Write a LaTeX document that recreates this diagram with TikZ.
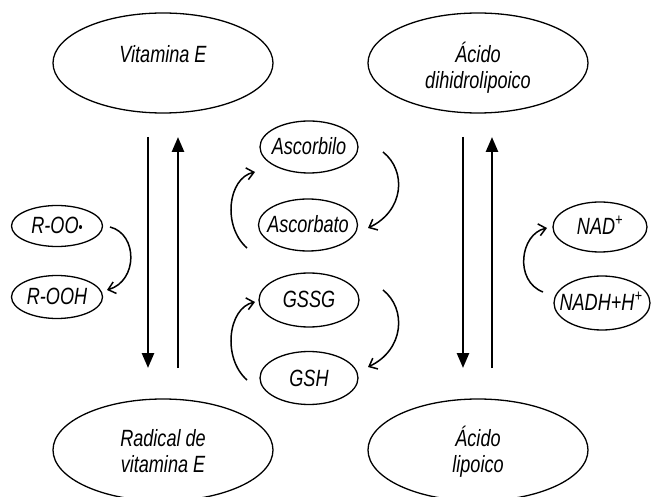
\documentclass[tikz,border=0pt]{standalone}
\usepackage{fontspec}
\setmainfont{Liberation Sans}[FakeStretch=0.77]
\usetikzlibrary{shapes.geometric,arrows.meta}
\tikzset{
  bigell/.style={ellipse,draw,line width=1.3pt,minimum width=220pt,minimum height=100pt,inner sep=0pt},
  smallell/.style={ellipse,draw,line width=1.3pt,inner sep=0pt},
  txt/.style={font=\fontsize{23.5}{26}\selectfont\itshape,inner sep=0pt,anchor=base},
  vert/.style={line width=2.6pt,-{Triangle[length=15pt,width=12pt]}},
  cur/.style={line width=1.5pt,-{Straight Barb[length=7pt,width=12pt,line width=1.5pt]}}
}
\newcommand{\raddot}{\raisebox{1pt}{\fontsize{15}{15}\selectfont\upshape•}}
\begin{document}
\begin{tikzpicture}[x=1pt,y=1pt]
\useasboundingbox (0,0) rectangle (651,496);
% big ellipses
\node[bigell] (vitE) at (163,433) {};
\node[txt] (vitEt) at (163,433) {Vitamina E};
\node[bigell] (acdh) at (478,433) {};
\node[txt] (acdh1) at (478,433) {Ácido};
\node[txt] (acdh2) at (478,407) {dihidrolipoico};
\node[bigell,minimum height=102pt] (radE) at (163,46) {};
\node[txt] (radE1) at (163,50) {Radical de};
\node[txt] (radE2) at (163,24) {vitamina E};
\node[bigell,minimum height=102pt] (acl) at (478,46) {};
\node[txt] (acl1) at (478,50) {Ácido};
\node[txt] (acl2) at (478,24) {lipoico};
% small ellipses
\node[smallell,minimum width=98pt,minimum height=52pt] (asbl) at (309,349) {};
\node[txt] (asblt) at (309,341) {Ascorbilo};
\node[smallell,minimum width=99pt,minimum height=52pt] (asbt) at (308,271) {};
\node[txt] (asbtt) at (308,263) {Ascorbato};
\node[smallell,minimum width=100pt,minimum height=54pt] (gssg) at (309,196) {};
\node[txt] (gssgt) at (309,188) {GSSG};
\node[smallell,minimum width=98pt,minimum height=53pt] (gsh) at (309,118) {};
\node[txt] (gsht) at (309,110) {GSH};
\node[smallell,minimum width=91pt,minimum height=41pt] (roo) at (57,270) {};
\node[txt] (root) at (57,262) {R-OO\raddot};
\node[smallell,minimum width=91pt,minimum height=43pt] (rooh) at (57,199) {};
\node[txt] (rooht) at (57,191) {R-OOH};
\node[smallell,minimum width=94pt,minimum height=50pt] (nad) at (600,269) {};
\node[txt] (nadt) at (600,261) {NAD\textsuperscript{+}};
\node[smallell,minimum width=96pt,minimum height=54pt] (nadh) at (602,193) {};
\node[txt] (nadht) at (601,185) {NADH+H\textsuperscript{+}};
% vertical arrows
\coordinate (l1t) at (148,359); \coordinate (l1b) at (148,128);
\coordinate (l2t) at (178,359); \coordinate (l2b) at (178,128);
\coordinate (r1t) at (463,359); \coordinate (r1b) at (463,128);
\coordinate (r2t) at (492,359); \coordinate (r2b) at (492,128);
\draw[vert] (l1t) -- (l1b);
\draw[vert] (l2b) -- (l2t);
\draw[vert] (r1t) -- (r1b);
\draw[vert] (r2b) -- (r2t);
% curved arrows
\coordinate (c1s) at (110,269); \coordinate (c1e) at (107,206);
\draw[cur] (c1s) .. controls (138,262) and (138,215) .. (c1e);
\coordinate (c2s) at (383,344); \coordinate (c2e) at (368,268);
\draw[cur] (c2s) .. controls (407,325) and (404,285) .. (c2e);
\coordinate (c3s) at (247,248); \coordinate (c3e) at (255,324);
\draw[cur] (c3s) .. controls (222,270) and (228,318) .. (c3e);
\coordinate (c4s) at (383,206); \coordinate (c4e) at (368,129);
\draw[cur] (c4s) .. controls (407,187) and (404,146) .. (c4e);
\coordinate (c5s) at (247,116); \coordinate (c5e) at (255,194);
\draw[cur] (c5s) .. controls (222,138) and (228,188) .. (c5e);
\coordinate (c6s) at (543,204); \coordinate (c6e) at (547,268);
\draw[cur] (c6s) .. controls (514,215) and (520,262) .. (c6e);
\end{tikzpicture}
\end{document}
